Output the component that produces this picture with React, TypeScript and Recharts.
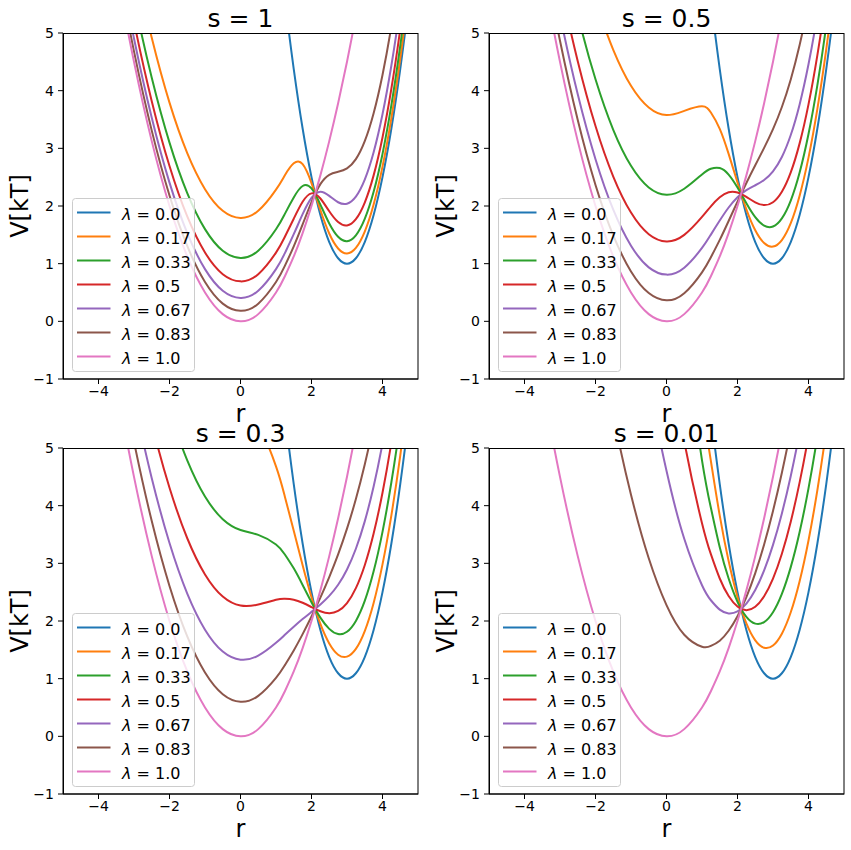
import React from 'react';
import { LineChart, Line, XAxis, YAxis, Legend } from 'recharts';

// sample positions along r, shared by every panel
const R = [-4.5, -4, -3.5, -3, -2.5, -2, -1.5, -1, -0.5, 0, 0.5, 1, 1.25, 1.5, 1.75, 2, 2.25, 2.5, 2.75, 3, 3.25, 3.5, 3.75, 4, 4.25, 4.5, 4.75, 5];
const X_TICKS = [-4, -2, 0, 2, 4];
const Y_TICKS = [-1, 0, 1, 2, 3, 4, 5];
const LAMBDAS = ['0.0', '0.17', '0.33', '0.5', '0.67', '0.83', '1.0'];
const COLORS = ['#1f77b4', '#ff7f0e', '#2ca02c', '#d62728', '#9467bd', '#8c564b', '#e377c2'];

const _ = null;

// lambda = 0 and lambda = 1 look the same in all four panels
const lam0 = [_, _, _, _, _, _, _, _, _, _, _, 7.0, 5.594, 4.375, 3.344, 2.5, 1.844, 1.375, 1.094, 1.0, 1.094, 1.375, 1.844, 2.5, 3.344, 4.375, 5.594, 7.0];
const lam1 = [_, 8.0, 6.125, 4.5, 3.125, 2.0, 1.125, 0.5, 0.125, 0, 0.125, 0.5, 0.781, 1.125, 1.531, 2.0, 2.531, 3.125, 3.781, 4.5, 5.281, 6.125, 7.031, _, _, _, _, _];

// s = 1
const s1_017 = [_, _, 7.917, 6.292, 4.917, 3.792, 2.917, 2.292, 1.917, 1.792, 1.917, 2.284, 2.533, 2.74, 2.726, 2.397, 1.93, 1.523, 1.263, 1.176, 1.273, 1.556, 2.025, 2.682, 3.525, 4.557, 5.776, 7.18];
const s1_033 = [_, _, 7.224, 5.599, 4.224, 3.099, 2.224, 1.599, 1.224, 1.099, 1.224, 1.596, 1.864, 2.149, 2.347, 2.304, 2.025, 1.697, 1.466, 1.39, 1.492, 1.776, 2.246, 2.903, 3.748, 4.779, 5.999, 7.405];
const s1_050 = [_, 8.693, 6.818, 5.193, 3.818, 2.693, 1.818, 1.193, 0.818, 0.693, 0.818, 1.192, 1.466, 1.78, 2.073, 2.219, 2.13, 1.908, 1.721, 1.663, 1.772, 2.06, 2.531, 3.189, 4.034, 5.065, 6.284, 7.69];
const s1_067 = [_, 8.405, 6.53, 4.905, 3.53, 2.405, 1.53, 0.905, 0.53, 0.405, 0.53, 0.905, 1.183, 1.511, 1.858, 2.141, 2.246, 2.175, 2.065, 2.04, 2.162, 2.456, 2.931, 3.59, 4.436, 5.467, 6.686, _];
const s1_083 = [_, 8.182, 6.307, 4.682, 3.307, 2.182, 1.307, 0.682, 0.307, 0.182, 0.307, 0.682, 0.962, 1.3, 1.681, 2.068, 2.379, 2.541, 2.593, 2.651, 2.812, 3.124, 3.608, 4.272, 5.119, 6.151, _, _];

// s = 0.5
const s05_017 = [_, _, _, _, 6.709, 5.584, 4.709, 4.084, 3.708, 3.576, 3.65, 3.729, 3.621, 3.338, 2.904, 2.408, 1.943, 1.579, 1.357, 1.296, 1.41, 1.703, 2.179, 2.839, 3.685, 4.717, 5.935, 7.339];
const s05_033 = [_, _, _, 6.697, 5.322, 4.197, 3.322, 2.697, 2.322, 2.194, 2.299, 2.548, 2.647, 2.658, 2.544, 2.319, 2.048, 1.807, 1.659, 1.644, 1.785, 2.095, 2.581, 3.248, 4.097, 5.13, 6.347, _];
const s05_050 = [_, _, 7.511, 5.886, 4.511, 3.386, 2.511, 1.886, 1.511, 1.385, 1.499, 1.81, 1.995, 2.152, 2.239, 2.234, 2.158, 2.064, 2.016, 2.066, 2.248, 2.583, 3.086, 3.762, 4.617, 5.652, 6.867, _];
const s05_067 = [_, 8.811, 6.936, 5.311, 3.936, 2.811, 1.936, 1.311, 0.936, 0.81, 0.93, 1.273, 1.504, 1.748, 1.974, 2.153, 2.275, 2.36, 2.451, 2.601, 2.85, 3.231, 3.762, 4.457, 5.321, 6.358, _, _];
const s05_083 = [_, 8.365, 6.49, 4.865, 3.49, 2.365, 1.49, 0.865, 0.49, 0.364, 0.487, 0.849, 1.11, 1.412, 1.74, 2.075, 2.399, 2.706, 3.008, 3.333, 3.717, 4.195, 4.792, 5.529, 6.416, _, _, _];

// s = 0.3
const s03_017 = [_, _, _, _, _, _, _, _, 6.046, 5.764, 5.405, 4.682, 4.156, 3.565, 2.965, 2.411, 1.949, 1.61, 1.416, 1.382, 1.517, 1.826, 2.314, 2.982, 3.833, 4.866, 6.083, _];
const s03_033 = [_, _, _, _, 6.787, 5.662, 4.786, 4.158, 3.766, 3.577, 3.493, 3.327, 3.154, 2.913, 2.625, 2.325, 2.058, 1.863, 1.774, 1.814, 2.002, 2.348, 2.861, 3.546, 4.406, 5.442, 6.656, _];
const s03_050 = [_, _, _, 6.81, 5.435, 4.31, 3.435, 2.808, 2.425, 2.268, 2.285, 2.367, 2.385, 2.369, 2.316, 2.241, 2.17, 2.136, 2.174, 2.31, 2.569, 2.967, 3.516, 4.225, 5.098, 6.139, _, _];
const s03_067 = [_, _, 7.477, 5.852, 4.477, 3.352, 2.476, 1.85, 1.471, 1.33, 1.4, 1.622, 1.761, 1.901, 2.033, 2.158, 2.286, 2.435, 2.628, 2.894, 3.253, 3.728, 4.333, 5.079, 5.973, _, _, _];
const s03_083 = [_, 8.608, 6.733, 5.108, 3.733, 2.608, 1.733, 1.107, 0.731, 0.599, 0.702, 1.014, 1.235, 1.49, 1.773, 2.078, 2.406, 2.762, 3.155, 3.601, 4.115, 4.715, 5.416, 6.229, _, _, _, _];

// s = 0.01
const s001_017 = [_, _, _, _, _, _, _, _, _, _, 8.592, 5.887, 4.775, 3.826, 3.039, 2.417, 1.958, 1.665, 1.537, 1.575, 1.78, 2.151, 2.69, 3.396, 4.27, 5.311, 6.519, _];
const s001_033 = [_, _, _, _, _, _, _, _, _, _, 6.84, 4.786, 3.964, 3.28, 2.736, 2.333, 2.073, 1.955, 1.982, 2.153, 2.47, 2.934, 3.543, 4.3, 5.204, 6.255, _, _];
const s001_050 = [_, _, _, _, _, _, _, _, _, 6.988, 5.119, 3.697, 3.159, 2.737, 2.433, 2.25, 2.187, 2.246, 2.429, 2.735, 3.166, 3.722, 4.404, 5.212, 6.147, _, _, _];
const s001_067 = [_, _, _, _, _, _, _, 8.019, 6.139, 4.604, 3.426, 2.62, 2.36, 2.197, 2.132, 2.166, 2.302, 2.538, 2.877, 3.32, 3.866, 4.516, 5.272, 6.133, _, _, _, _];
const s001_083 = [_, _, _, _, _, 7.231, 5.573, 4.189, 3.087, 2.275, 1.762, 1.554, 1.567, 1.659, 1.831, 2.083, 2.416, 2.831, 3.328, 3.908, 4.571, 5.318, 6.148, _, _, _, _, _];

const FONT = 'DejaVu Sans';
const minus = (v: number) => String(v).replace('-', '\u2212');

function LegendBox() {
  return (
    <svg width={123} height={174} style={{ display: 'block' }}>
      <rect x={0.5} y={0.5} width={122} height={173} rx={3} fill="#fff" fillOpacity={0.8} stroke="#cccccc" />
      {LAMBDAS.map((l, i) => {
        const y = 14.5 + 24 * i;
        return (
          <g key={l}>
            <line x1={5} x2={38.5} y1={y} y2={y} stroke={COLORS[i]} strokeWidth={2} />
            <text x={50} y={y + 7.3} fontSize={16} fontFamily={FONT} fill="#000">
              <tspan fontStyle="italic">λ</tspan>
              <tspan> = {l}</tspan>
            </text>
          </g>
        );
      })}
    </svg>
  );
}

function Panel({ title, series, left, top }: { title: string; series: (number | null)[][]; left: number; top: number }) {
  const data = R.map((r, i) => {
    const row: Record<string, number | null> = { r };
    series.forEach((s, k) => {
      row['l' + k] = s[i];
    });
    return row;
  });

  return (
    <div style={{ position: 'absolute', left: left - 63, top: top - 33, width: 425, height: 415 }}>
      <LineChart
        width={425}
        height={415}
        data={data}
        margin={{ top: 33, right: 7, bottom: 6, left: 13 }}
        style={{ fontFamily: FONT }}
      >
        <XAxis
          dataKey="r"
          type="number"
          domain={[-5, 5]}
          ticks={X_TICKS}
          allowDataOverflow
          height={30}
          tickSize={5}
          tickMargin={2.5}
          tickFormatter={minus}
          tick={{ fontSize: 14, fill: '#000', fontFamily: FONT }}
          tickLine={{ stroke: '#000' }}
          axisLine={{ stroke: '#000' }}
        />
        <YAxis
          type="number"
          domain={[-1, 5]}
          ticks={Y_TICKS}
          allowDataOverflow
          width={50}
          tickSize={5}
          tickMargin={4}
          tickFormatter={minus}
          tick={{ fontSize: 14, fill: '#000', fontFamily: FONT }}
          tickLine={{ stroke: '#000' }}
          axisLine={{ stroke: '#000' }}
        />
        {series.map((_s, k) => (
          <Line
            key={k}
            dataKey={'l' + k}
            name={LAMBDAS[k]}
            type="natural"
            stroke={COLORS[k]}
            strokeWidth={2}
            dot={false}
            activeDot={false}
            isAnimationActive={false}
          />
        ))}
        <Legend
          layout="vertical"
          align="center"
          verticalAlign="middle"
          wrapperStyle={{ left: 71.7, top: 197.5, width: 123, height: 174 }}
          content={() => <LegendBox />}
        />
      </LineChart>
      <svg
        width={425}
        height={440}
        style={{ position: 'absolute', left: 0, top: 0, pointerEvents: 'none', overflow: 'visible' }}
      >
        {/* axes frame (top and right spines too) */}
        <rect x={63.5} y={33.5} width={354.5} height={345.5} fill="none" stroke="#000" strokeWidth={1} />
        <text x={240.5} y={26.5} textAnchor="middle" fontSize={25} fontFamily={FONT} fill="#000">
          {title}
        </text>
        <text x={240.5} y={422} textAnchor="middle" fontSize={24} fontFamily={FONT} fill="#000">
          r
        </text>
        <text
          transform="translate(27.5, 206) rotate(-90)"
          textAnchor="middle"
          fontSize={24}
          fontFamily={FONT}
          fill="#000"
        >
          V[kT]
        </text>
      </svg>
    </div>
  );
}

export default function App() {
  return (
    <div style={{ position: 'absolute', left: 0, top: 0, width: 851, height: 850, background: '#fff' }}>
      <Panel title="s = 1" left={63} top={33} series={[lam0, s1_017, s1_033, s1_050, s1_067, s1_083, lam1]} />
      <Panel title="s = 0.5" left={489} top={33} series={[lam0, s05_017, s05_033, s05_050, s05_067, s05_083, lam1]} />
      <Panel title="s = 0.3" left={63} top={448} series={[lam0, s03_017, s03_033, s03_050, s03_067, s03_083, lam1]} />
      <Panel title="s = 0.01" left={489} top={448} series={[lam0, s001_017, s001_033, s001_050, s001_067, s001_083, lam1]} />
    </div>
  );
}
